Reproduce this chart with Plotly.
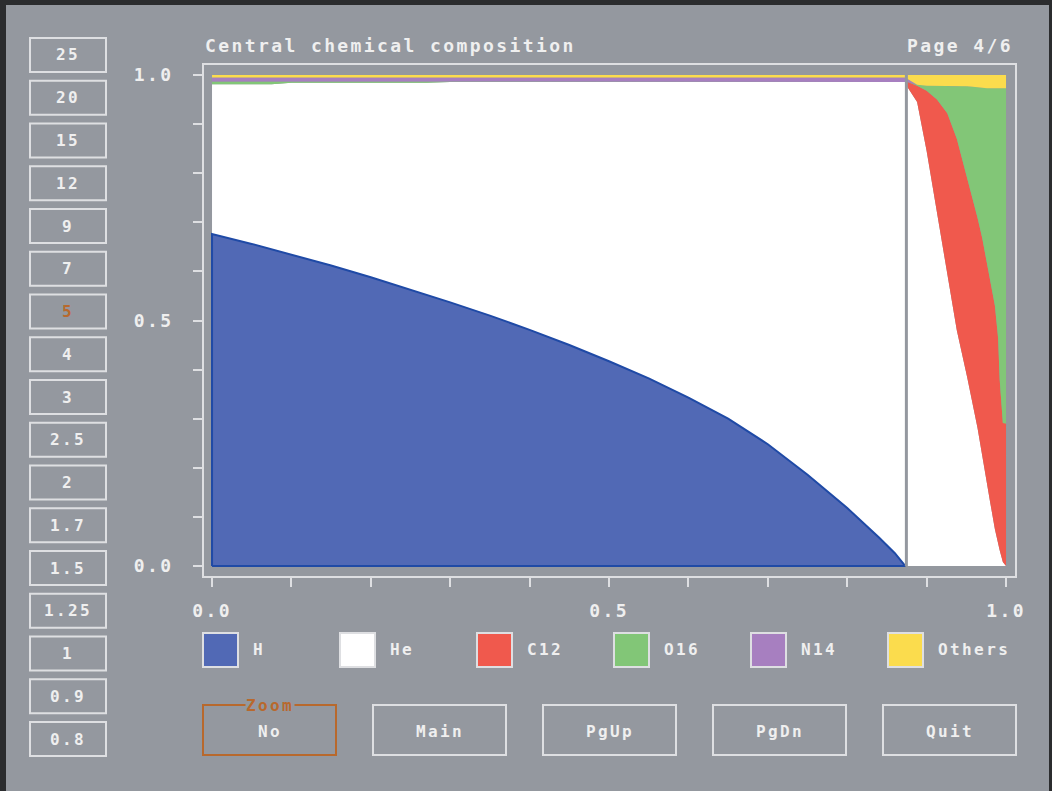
import plotly.graph_objects as go

# ---- central abundances (mass fraction) versus normalised age ----
# core hydrogen burning
age_ms = [0.0, 0.05, 0.075, 0.10, 0.15, 0.20, 0.25, 0.27, 0.30, 0.35, 0.40,
          0.45, 0.50, 0.55, 0.60, 0.65, 0.70, 0.75, 0.80, 0.84, 0.86, 0.873]
h_ms = [0.676, 0.656, 0.645, 0.634, 0.612, 0.588, 0.563, 0.553, 0.537, 0.510, 0.481,
        0.450, 0.417, 0.382, 0.343, 0.300, 0.248, 0.186, 0.118, 0.058, 0.026, 0.000]
he_ms = [0.305, 0.325, 0.336, 0.350, 0.372, 0.396, 0.421, 0.431, 0.449, 0.476, 0.505,
         0.536, 0.569, 0.604, 0.643, 0.686, 0.738, 0.800, 0.868, 0.928, 0.960, 0.986]
c12_ms = [0.0, 0.0, 0.0, 0.0, 0.0, 0.0, 0.0, 0.0, 0.0, 0.0, 0.0,
          0.0, 0.0, 0.0, 0.0, 0.0, 0.0, 0.0, 0.0, 0.0, 0.0, 0.0]
o16_ms = [0.006, 0.006, 0.006, 0.003, 0.003, 0.003, 0.003, 0.003, 0.001, 0.001, 0.001,
          0.001, 0.001, 0.001, 0.001, 0.001, 0.001, 0.001, 0.001, 0.001, 0.001, 0.001]
n14_ms = [0.008, 0.008, 0.008, 0.008, 0.008, 0.008, 0.008, 0.008, 0.008, 0.008, 0.008,
          0.008, 0.008, 0.008, 0.008, 0.008, 0.008, 0.008, 0.008, 0.008, 0.008, 0.008]
oth_ms = [0.005, 0.005, 0.005, 0.005, 0.005, 0.005, 0.005, 0.005, 0.005, 0.005, 0.005,
          0.005, 0.005, 0.005, 0.005, 0.005, 0.005, 0.005, 0.005, 0.005, 0.005, 0.005]

# core helium burning
age_hb = [0.876, 0.888, 0.900, 0.913, 0.926, 0.938, 0.951, 0.958, 0.964,
          0.970, 0.976, 0.980, 0.986, 0.990, 0.992, 0.996, 1.000]
h_hb = [0.0, 0.0, 0.0, 0.0, 0.0, 0.0, 0.0, 0.0, 0.0,
        0.0, 0.0, 0.0, 0.0, 0.0, 0.0, 0.0, 0.0]
he_hb = [0.975, 0.945, 0.845, 0.720, 0.590, 0.480, 0.385, 0.330, 0.282,
         0.225, 0.165, 0.130, 0.075, 0.045, 0.032, 0.008, 0.000]
c12_hb = [0.011, 0.033, 0.123, 0.230, 0.332, 0.390, 0.405, 0.418, 0.428,
          0.443, 0.450, 0.455, 0.455, 0.420, 0.348, 0.283, 0.290]
o16_hb = [0.000, 0.002, 0.010, 0.028, 0.056, 0.108, 0.187, 0.228, 0.265,
          0.305, 0.358, 0.388, 0.443, 0.508, 0.593, 0.682, 0.683]
n14_hb = [0.006, 0.0, 0.0, 0.0, 0.0, 0.0, 0.0, 0.0, 0.0,
          0.0, 0.0, 0.0, 0.0, 0.0, 0.0, 0.0, 0.0]
oth_hb = [0.008, 0.020, 0.022, 0.022, 0.022, 0.022, 0.023, 0.024, 0.025,
          0.027, 0.027, 0.027, 0.027, 0.027, 0.027, 0.027, 0.027]

species = ["H", "He", "C12", "O16", "N14", "Others"]
colors = ["#5169b5", "#ffffff", "#f0594d", "#82c677", "#a77fc0", "#fbdc4d"]

mass_buttons = ["25", "20", "15", "12", "9", "7", "5", "4", "3", "2.5",
                "2", "1.7", "1.5", "1.25", "1", "0.9", "0.8"]
current_mass = "5"
nav_buttons = ["No", "Main", "PgUp", "PgDn", "Quit"]

x_ticks = [0.0, 0.1, 0.2, 0.3, 0.4, 0.5, 0.6, 0.7, 0.8, 0.9, 1.0]
x_labels = ["0.0", "", "", "", "", "0.5", "", "", "", "", "1.0"]
y_ticks = [0.0, 0.1, 0.2, 0.3, 0.4, 0.5, 0.6, 0.7, 0.8, 0.9, 1.0]
y_labels = ["0.0", "", "", "", "", "0.5", "", "", "", "", "1.0"]

# ---- page style ----
W, H = 1052, 791
ML, MR, MT, MB = 204, 37, 65, 215
PW, PH = W - ML - MR, H - MT - MB
BG = "#94989f"
FRAME = "#dedfe2"
TXT = "#efefef"
ACCENT = "#b8692d"
H_EDGE = "#1f4aa6"
FONT = "DejaVu Sans Mono"
FS = 18


def sp(text):
    return '<span style="letter-spacing:2.4px">' + text + "</span>"


def fx(px):
    return (px - ML) / PW


def fy(py):
    return (H - MB - py) / PH


age = age_ms + age_hb
abundances = [h_ms + h_hb, he_ms + he_hb, c12_ms + c12_hb,
              o16_ms + o16_hb, n14_ms + n14_hb, oth_ms + oth_hb]

fig = go.Figure()
for name, col, vals in zip(species, colors, abundances):
    fig.add_trace(go.Scatter(
        x=age, y=vals, name=name, mode="lines", stackgroup="comp",
        fill="tonexty", fillcolor=col, line=dict(color=col, width=0),
        hoverinfo="x+y+name", showlegend=False))

# dark outline of the hydrogen region
fig.add_trace(go.Scatter(
    x=[age_ms[0]] + age_ms + [age_ms[0]], y=[0.0] + h_ms + [0.0],
    mode="lines", line=dict(color=H_EDGE, width=2), hoverinfo="skip",
    showlegend=False))

# separator at core hydrogen exhaustion
sep_x = (age_ms[-1] + age_hb[0]) / 2
shapes = [dict(type="line", xref="x", yref="y", x0=sep_x, x1=sep_x, y0=0, y1=1,
               line=dict(color=BG, width=3), layer="above")]
annotations = []

tick_font = dict(family=FONT, size=FS, color=TXT, weight="bold")

annotations.append(dict(xref="paper", yref="paper", x=fx(203), y=fy(45),
                        xanchor="left", yanchor="middle", showarrow=False,
                        text=sp("Central chemical composition"), font=tick_font))
annotations.append(dict(xref="paper", yref="paper", x=fx(1015), y=fy(45),
                        xanchor="right", yanchor="middle", showarrow=False,
                        text=sp("Page 4/6"), font=tick_font))

# column of mass selection buttons
for i, lab in enumerate(mass_buttons):
    top = 38 + i * 42.75
    shapes.append(dict(type="rect", xref="paper", yref="paper", layer="below",
                       x0=fx(30), x1=fx(106), y0=fy(top), y1=fy(top + 34),
                       line=dict(color=FRAME, width=2), fillcolor=BG))
    annotations.append(dict(xref="paper", yref="paper", x=fx(68), y=fy(top + 17),
                            xanchor="center", yanchor="middle", showarrow=False,
                            text=sp(lab),
                            font=dict(family=FONT, size=FS - 2, weight="bold",
                                      color=ACCENT if lab == current_mass else TXT)))

# legend swatches
for i, (name, col) in enumerate(zip(species, colors)):
    left = 203 + i * 137
    shapes.append(dict(type="rect", xref="paper", yref="paper", layer="below",
                       x0=fx(left), x1=fx(left + 35), y0=fy(633), y1=fy(667),
                       line=dict(color=FRAME, width=2), fillcolor=col))
    annotations.append(dict(xref="paper", yref="paper", x=fx(left + 48), y=fy(650),
                            xanchor="left", yanchor="middle", showarrow=False,
                            text=sp(name), font=dict(family=FONT, size=FS - 2,
                                                     weight="bold", color=TXT)))

# navigation buttons
for i, lab in enumerate(nav_buttons):
    left = 203 + i * 170
    edge = ACCENT if i == 0 else FRAME
    shapes.append(dict(type="rect", xref="paper", yref="paper", layer="below",
                       x0=fx(left), x1=fx(left + 133), y0=fy(705), y1=fy(755),
                       line=dict(color=edge, width=2), fillcolor=BG))
    annotations.append(dict(xref="paper", yref="paper", x=fx(left + 67), y=fy(731),
                            xanchor="center", yanchor="middle", showarrow=False,
                            text=sp(lab), font=dict(family=FONT, size=FS - 2,
                                                    weight="bold", color=TXT)))
annotations.append(dict(xref="paper", yref="paper", x=fx(270), y=fy(705),
                        xanchor="center", yanchor="middle", showarrow=False,
                        text=sp("Zoom"), bgcolor=BG, borderpad=0,
                        font=dict(family=FONT, size=FS - 2, weight="bold", color=ACCENT)))

# dark screen border
for x0, x1, y0, y1 in [(0, 6, 0, H), (0, W, 0, 5), (W - 3, W, 0, H)]:
    shapes.append(dict(type="rect", xref="paper", yref="paper", layer="below",
                       x0=fx(x0), x1=fx(x1), y0=fy(y0), y1=fy(y1),
                       line=dict(width=0), fillcolor="#2b2c2e"))

axis_common = dict(showgrid=False, zeroline=False, showline=True, linecolor=FRAME,
                   linewidth=2, mirror=True, ticks="outside", ticklen=9, tickwidth=2,
                   tickcolor=FRAME, tickfont=tick_font, fixedrange=True,
                   automargin=False)

fig.update_layout(
    width=W, height=H, autosize=False,
    margin=dict(l=ML, r=MR, t=MT, b=MB, autoexpand=False),
    paper_bgcolor=BG, plot_bgcolor=BG,
    xaxis=dict(range=[-0.0101, 1.0113], tickvals=x_ticks,
               ticktext=[sp(t) for t in x_labels], ticklabelstandoff=8,
               **axis_common),
    yaxis=dict(range=[-0.0204, 1.0204], tickvals=y_ticks,
               ticktext=[sp(t) for t in y_labels], ticklabelstandoff=16,
               **axis_common),
    shapes=shapes, annotations=annotations, showlegend=False,
)

fig.write_html("out.html")
